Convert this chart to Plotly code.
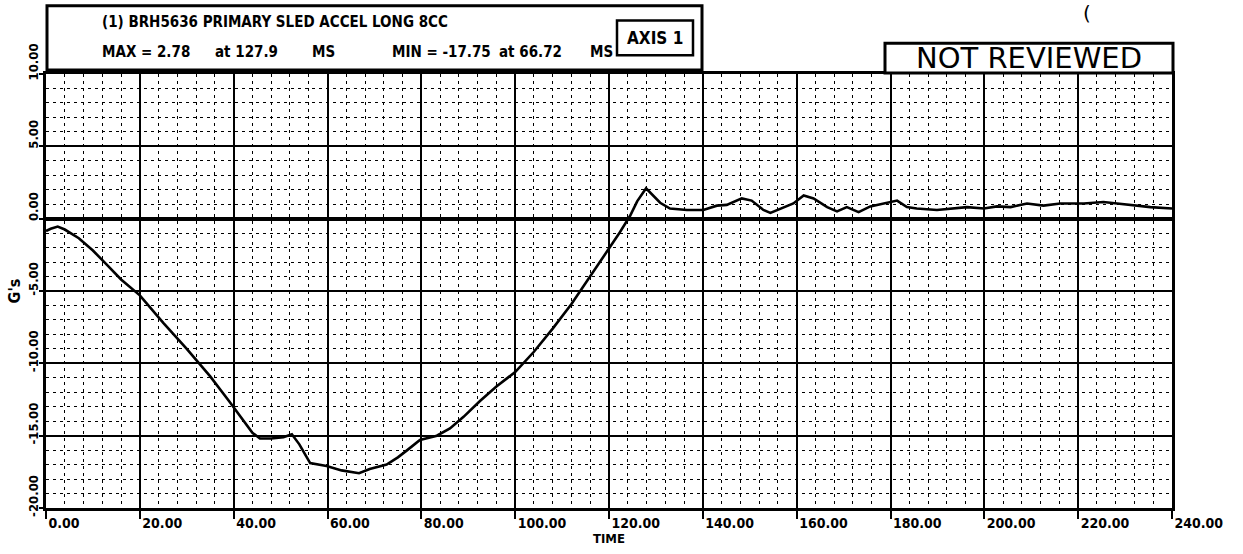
import plotly.graph_objects as go

# ---- data ----
time_ms = [0, 1, 2.5, 4, 7, 10, 13, 16, 20, 25, 30, 35, 39, 42, 44, 45.6, 48, 50.6, 52.4,
           54, 56.3, 59.8, 63, 66.72, 69, 72.6, 75, 77, 79.7, 83.3, 86.1, 89, 92.5, 96,
           100, 104, 108, 112, 116, 119, 122, 124.5, 126, 127.9, 129.5, 130.9, 133, 136.6,
           140.1, 143, 145.1, 148.3, 150.4, 152.9, 154.4, 156.5, 159.3, 161.5, 163.6, 166.5,
           168.6, 170.7, 173.2, 175.7, 178.5, 181.4, 183.5, 185.6, 189.9, 192.8, 196.3,
           199.9, 202.7, 205.6, 209.1, 212.6, 216.2, 221.2, 225.4, 228.3, 232.5, 235.4, 240]
accel_g = [-0.85, -0.7, -0.55, -0.75, -1.35, -2.2, -3.2, -4.2, -5.3, -7.2, -9.0, -10.9, -12.6,
           -13.9, -14.8, -15.2, -15.2, -15.1, -14.9, -15.6, -16.9, -17.1, -17.4, -17.6, -17.3,
           -17.0, -16.5, -16.0, -15.3, -15.0, -14.5, -13.7, -12.6, -11.6, -10.6, -9.2, -7.6,
           -5.9, -4.0, -2.6, -1.1, 0.2, 1.2, 2.1, 1.6, 1.1, 0.7, 0.6, 0.6, 0.9, 0.95, 1.4,
           1.25, 0.6, 0.4, 0.7, 1.05, 1.6, 1.4, 0.8, 0.5, 0.8, 0.45, 0.85, 1.05, 1.25, 0.8,
           0.7, 0.6, 0.7, 0.8, 0.7, 0.85, 0.8, 1.05, 0.9, 1.05, 1.05, 1.15, 1.05, 0.9, 0.8, 0.7]

x_ticks = [0, 20, 40, 60, 80, 100, 120, 140, 160, 180, 200, 220, 240]
x_tick_labels = ["0.00", "20.00", "40.00", "60.00", "80.00", "100.00", "120.00", "140.00",
                 "160.00", "180.00", "200.00", "220.00", "240.00"]
y_ticks = [-20, -15, -10, -5, 0, 5, 10]
y_tick_labels = ["-20.00", "-15.00", "-10.00", "-5.00", "0.00", "5.00", "10.00"]

title_line1 = "(1) BRH5636 PRIMARY SLED ACCEL LONG 8CC"
# second header line pieces: (text, left pixel)
title_line2 = [("MAX = 2.78", 100), ("at 127.9", 213), ("MS", 310),
               ("MIN = -17.75", 390), ("at 66.72", 497), ("MS", 588)]

W, H = 1243, 554
L, R, T, B = 46, 71, 74, 42
PW, PH = W - L - R, H - T - B


def px(xp):
    return (xp - L) / PW


def py(yp):
    return (H - B - yp) / PH


NARROW = "Liberation Sans Narrow, DejaVu Sans Condensed, Arial Narrow, sans-serif"

fig = go.Figure()
fig.add_trace(go.Scatter(x=time_ms, y=accel_g, mode="lines",
                         line=dict(color="black", width=2.6), hoverinfo="skip",
                         showlegend=False))

fig.update_layout(
    width=W, height=H,
    margin=dict(l=L, r=R, t=T, b=B, pad=0),
    paper_bgcolor="white", plot_bgcolor="white",
    showlegend=False,
)

fig.update_xaxes(
    range=[0, 240], tickmode="array", tickvals=x_ticks, ticktext=x_tick_labels,
    ticklabelposition="outside right",
    showgrid=True, gridcolor="black", gridwidth=2,
    minor=dict(dtick=4, showgrid=True, gridcolor="black", gridwidth=1.4, griddash="3px,4px"),
    zeroline=False, showline=True, linecolor="black", linewidth=3, mirror=True,
    ticks="outside", ticklen=8, tickwidth=2, tickcolor="black",
    tickfont=dict(family=NARROW, size=14, color="black", weight="bold"),
    title=dict(text="TIME", font=dict(family=NARROW, size=13, color="black", weight="bold"),
               standoff=2),
)
fig.update_yaxes(
    range=[-20, 10], tickmode="array", tickvals=y_ticks, ticktext=y_tick_labels,
    tickangle=-90, ticklabelposition="outside top",
    showgrid=True, gridcolor="black", gridwidth=2,
    minor=dict(dtick=1, showgrid=True, gridcolor="black", gridwidth=1.4, griddash="3px,4px"),
    zeroline=True, zerolinecolor="black", zerolinewidth=3.5,
    showline=True, linecolor="black", linewidth=3, mirror=True,
    ticks="outside", ticklen=4, tickwidth=2, tickcolor="black",
    tickfont=dict(family=NARROW, size=13, color="black", weight="bold"),
    title=dict(text="G's", font=dict(family=NARROW, size=16, color="black", weight="bold"),
               standoff=2),
)

# header box with title lines
fig.add_shape(type="rect", xref="paper", yref="paper",
              x0=px(47), x1=px(702), y0=py(70), y1=py(5),
              line=dict(color="black", width=3), fillcolor="white")
fig.add_shape(type="rect", xref="paper", yref="paper",
              x0=px(617), x1=px(693), y0=py(55), y1=py(20),
              line=dict(color="black", width=2.5))
fig.add_annotation(xref="paper", yref="paper", x=px(100), y=py(22), xanchor="left",
                   yanchor="middle", showarrow=False, text=title_line1,
                   font=dict(family=NARROW, size=15, color="black", weight="bold"))
for txt, left in title_line2:
    fig.add_annotation(xref="paper", yref="paper", x=px(left), y=py(52), xanchor="left",
                       yanchor="middle", showarrow=False, text=txt,
                       font=dict(family=NARROW, size=15, color="black", weight="bold"))
fig.add_annotation(xref="paper", yref="paper", x=px(655), y=py(38), xanchor="center",
                   yanchor="middle", showarrow=False, text="AXIS 1",
                   font=dict(family=NARROW, size=17, color="black", weight="bold"))

# NOT REVIEWED stamp
fig.add_shape(type="rect", xref="paper", yref="paper",
              x0=px(885), x1=px(1173), y0=py(73), y1=py(43),
              line=dict(color="black", width=3), fillcolor="white")
fig.add_annotation(xref="paper", yref="paper", x=px(1029), y=py(58), xanchor="center",
                   yanchor="middle", showarrow=False, text="NOT REVIEWED",
                   font=dict(family="DejaVu Sans, sans-serif", size=29, color="black"))
fig.add_annotation(xref="paper", yref="paper", x=px(1087), y=py(12), xanchor="center",
                   yanchor="middle", showarrow=False, text="(",
                   font=dict(family="DejaVu Sans, sans-serif", size=20, color="black"))

fig.write_html("out.html")
